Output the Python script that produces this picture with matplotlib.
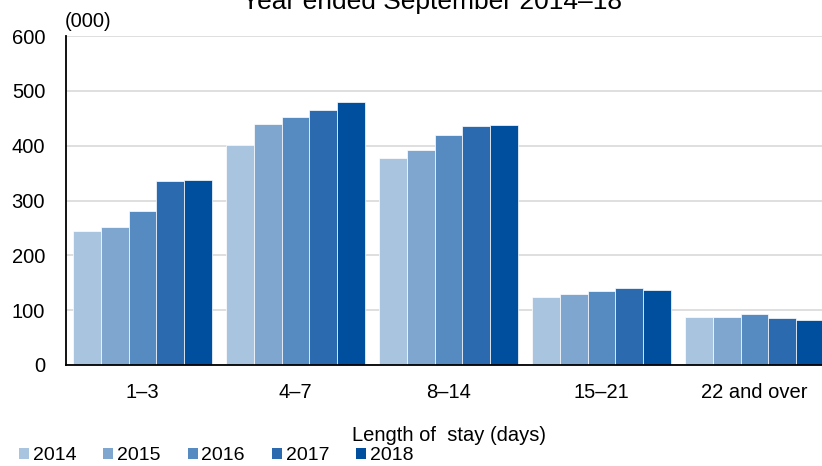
import matplotlib.pyplot as plt
import numpy as np
from matplotlib.patches import Patch

plt.rcParams['font.family'] = ['Liberation Sans', 'DejaVu Sans']

# Data (thousands of visitors)
categories = ['1–3', '4–7', '8–14', '15–21', '22 and over']
years = ['2014', '2015', '2016', '2017', '2018']
v2014 = [244, 401, 378, 124, 87]
v2015 = [252, 439, 392, 130, 88]
v2016 = [281, 453, 419, 135, 93]
v2017 = [336, 465, 435, 141, 86]
v2018 = [338, 479, 438, 136, 82]
series = [v2014, v2015, v2016, v2017, v2018]
colors = ['#a9c4de', '#7fa6cf', '#558bc1', '#2b6aae', '#004f9e']

fig = plt.figure(figsize=(8.22, 4.66), dpi=100)
ax = fig.add_axes([66 / 822, 101 / 466, 765 / 822, 329 / 466])

x = np.arange(len(categories))
bw = 0.1817
for i, vals in enumerate(series):
    ax.bar(x + (i - 2) * bw, vals, width=bw, color=colors[i],
           edgecolor='white', linewidth=0.5, zorder=3, label=years[i])

ax.set_xlim(-0.5, len(categories) - 0.5)
ax.set_ylim(0, 600)
ax.set_yticks(range(0, 601, 100))
ax.set_xticks(x)
ax.set_xticklabels(categories)
ax.yaxis.grid(True, color='#d9d9d9', linewidth=1.2, zorder=0)
ax.set_axisbelow(True)
ax.tick_params(axis='y', length=0, pad=15, labelsize=14.5)
ax.tick_params(axis='x', length=0, pad=13, labelsize=14.5)
for s in ['top', 'right']:
    ax.spines[s].set_visible(False)
for s in ['left', 'bottom']:
    ax.spines[s].set_linewidth(1.3)
    ax.spines[s].set_zorder(5)

ax.set_xlabel('Length of  stay (days)', fontsize=14.5, labelpad=17)

fig.text(242 / 822, 1 - 9.5 / 466, 'Year ended September 2014–18',
         fontsize=19, ha='left', va='baseline')
fig.text(65 / 822, 1 - 27 / 466, '(000)', fontsize=14.5, ha='left', va='baseline')

handles = [Patch(facecolor=c, edgecolor='none') for c in colors]
fig.legend(handles, years, loc='center left', ncol=5, frameon=False,
           bbox_to_anchor=(19 / 822, 1 - 456 / 466), borderpad=0, borderaxespad=0,
           handlelength=0.5, handleheight=0.5, handletextpad=0.2,
           columnspacing=1.4, fontsize=14)

fig.savefig('out.png', dpi=100)
